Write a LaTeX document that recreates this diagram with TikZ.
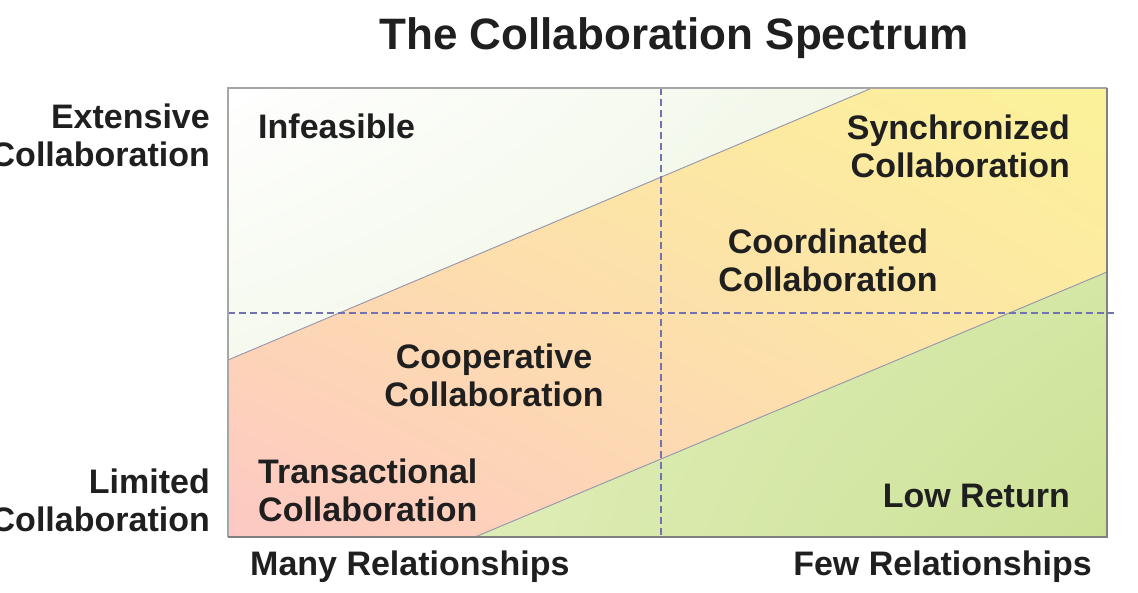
\documentclass[tikz,border=0pt]{standalone}
\usepackage{fontspec}
\setmainfont{Liberation Sans}
\usetikzlibrary{shadings}
\begin{document}
\begin{tikzpicture}[x=1pt,y=-1pt,
  lbl/.style={inner sep=0pt, text=black!88, font=\fontsize{34}{38}\selectfont\bfseries},
  divider/.style={draw=black!30!blue!20!gray!70, line width=0.9pt},
  guide/.style={draw=blue!30!gray!85, line width=1.4pt, dash pattern=on 7pt off 4pt},
  frame/.style={draw=black!35, line width=1.6pt}]
\definecolor{pinkband}{RGB}{253,200,196}
\definecolor{yellowband}{RGB}{251,242,154}
\definecolor{peachband}{RGB}{253,226,168}
\definecolor{greenA}{RGB}{222,237,182}
\definecolor{greenB}{RGB}{212,231,164}
\definecolor{greenC}{RGB}{204,225,150}
\definecolor{paleA}{RGB}{255,255,255}
\definecolor{paleB}{RGB}{238,245,226}
% canvas
\fill[white] (0,0) rectangle (1138,593);
\useasboundingbox (0,0) rectangle (1138,593);

% corner and band coordinates of the chart
\coordinate (TL) at (228,88);
\coordinate (TR) at (1107,88);
\coordinate (BL) at (228,537);
\coordinate (BR) at (1107,537);
\coordinate (uL) at (228,360);
\coordinate (uT) at (872,88);
\coordinate (lB) at (475,537);
\coordinate (lR) at (1107,272);

% infeasible corner
\shade[upper left=paleA, lower left=paleB!60, upper right=paleB!80, lower right=paleB]
  (TL) -- (uT) -- (uL) -- cycle;
% collaboration band
\shade[lower left=pinkband, upper right=yellowband, upper left=peachband, lower right=peachband]
  (uL) -- (uT) -- (TR) -- (lR) -- (lB) -- (BL) -- cycle;
% low return corner
\shade[lower left=greenA, upper right=greenB, upper left=greenA, lower right=greenC]
  (lB) -- (lR) -- (BR) -- cycle;

% band borders
\draw[divider] (uL) -- (uT);
\draw[divider] (lB) -- (lR);

% quadrant guides
\coordinate (vTop) at (661,88);
\coordinate (vBot) at (661,537);
\coordinate (hL) at (228,313);
\coordinate (hR) at (1114,313);
\draw[guide] (vTop) -- (vBot);
\draw[guide] (hL) -- (hR);

% frame: lighter top/left, darker right/bottom
\draw[frame] (BL) -- (TL) -- (TR);
\draw[frame, draw=black!50] (TR) -- (BR) -- (BL);

% title
\node[lbl, font=\fontsize{44}{48}\selectfont\bfseries] (title) at (674,38) {The Collaboration Spectrum};

% axis labels
\node[lbl, anchor=east, align=right] (ext) at (210,135) {Extensive\\Collaboration};
\node[lbl, anchor=east, align=right] (lim) at (210,500) {Limited\\Collaboration};
\node[lbl, anchor=west] (many) at (250,567) {Many Relationships};
\node[lbl, anchor=east] (few) at (1092,567) {Few Relationships};

% region labels
\node[lbl, anchor=west] (inf) at (258,126) {Infeasible};
\node[lbl, anchor=east, align=right] (sync) at (1070,146) {Synchronized\\Collaboration};
\node[lbl, align=center] (coord) at (828,260) {Coordinated\\Collaboration};
\node[lbl, align=center] (coop) at (494,375) {Cooperative\\Collaboration};
\node[lbl, anchor=west, align=left] (trans) at (258,490) {Transactional\\Collaboration};
\node[lbl, anchor=east] (low) at (1070,496) {Low Return};
\end{tikzpicture}
\end{document}
